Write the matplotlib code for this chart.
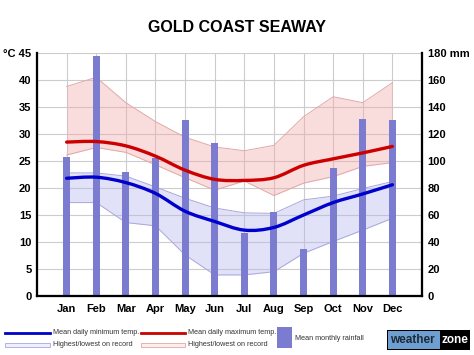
import matplotlib
matplotlib.use('Agg')
import matplotlib.pyplot as plt
from matplotlib.path import Path
from matplotlib.patches import PathPatch, Rectangle
from matplotlib.lines import Line2D

plt.rcParams['font.family'] = ['Liberation Sans', 'DejaVu Sans']

# Gold Coast Seaway climate data
months = ['Jan', 'Feb', 'Mar', 'Apr', 'May', 'Jun', 'Jul', 'Aug', 'Sep', 'Oct', 'Nov', 'Dec']
rainfall = [103, 178, 92, 102, 130, 113, 47, 62, 35, 95, 131, 130]
mean_max = [28.5, 28.6, 27.8, 25.9, 23.3, 21.6, 21.4, 21.9, 24.2, 25.4, 26.5, 27.7]
mean_min = [21.8, 22.0, 21.0, 19.0, 15.7, 13.8, 12.2, 12.7, 15.0, 17.3, 18.9, 20.6]
highest_max = [38.8, 40.5, 35.8, 32.3, 29.4, 27.6, 26.9, 27.9, 33.2, 36.9, 35.8, 39.5]
lowest_max = [26.1, 27.5, 26.6, 24.3, 21.9, 19.6, 21.3, 18.6, 20.9, 22.1, 24.0, 24.7]
highest_min = [22.8, 22.8, 22.2, 20.2, 18.1, 16.3, 15.4, 15.3, 17.8, 18.5, 19.9, 21.2]
lowest_min = [17.3, 17.3, 13.6, 13.0, 7.6, 3.9, 3.9, 4.5, 7.9, 10.1, 12.2, 14.4]

x = list(range(len(months)))


def smooth_path(xs, ys):
    # catmull-rom style bezier through the points
    pts = list(zip(xs, ys))
    verts = [pts[0]]
    codes = [Path.MOVETO]
    n = len(pts)
    for i in range(n - 1):
        p0 = pts[i - 1] if i > 0 else pts[i]
        p1 = pts[i]
        p2 = pts[i + 1]
        p3 = pts[i + 2] if i + 2 < n else pts[i + 1]
        c1 = (p1[0] + (p2[0] - p0[0]) / 6, p1[1] + (p2[1] - p0[1]) / 6)
        c2 = (p2[0] - (p3[0] - p1[0]) / 6, p2[1] - (p3[1] - p1[1]) / 6)
        verts += [c1, c2, p2]
        codes += [Path.CURVE4] * 3
    return Path(verts, codes)


fig = plt.figure(figsize=(4.74, 3.55), dpi=100)
ax = fig.add_axes([37 / 474, 1 - 296 / 355, 385 / 474, 243 / 355])
ax2 = ax.twinx()
ax3 = ax.twinx()

# bands of records
ax.fill_between(x, lowest_max, highest_max, color='#f2a8a8', alpha=0.4, lw=0, zorder=2)
ax.fill_between(x, lowest_min, highest_min, color='#b4b4ee', alpha=0.4, lw=0, zorder=2)
for arr in (highest_max, lowest_max):
    ax.plot(x, arr, color='#e0a8a8', lw=0.7, zorder=3)
for arr in (highest_min, lowest_min):
    ax.plot(x, arr, color='#a8a8dc', lw=0.7, zorder=3)

ax.set_xlim(-1, 12)
ax.set_ylim(0, 45)
ax.set_yticks(range(0, 50, 5))
ax.set_yticklabels([str(v) for v in range(0, 45, 5)] + ['°C 45'], fontweight='bold', fontsize=8)
ax.set_xticks(x)
ax.set_xticklabels(months, fontweight='bold', fontsize=8)
ax.tick_params(axis='both', length=0)
ax.tick_params(axis='x', pad=6)
ax.tick_params(axis='y', pad=4)
ax.grid(True, color='#cccccc', lw=0.8, zorder=0)
ax.set_axisbelow(True)

# rainfall bars
ax2.bar(x, rainfall, width=0.24, color='#7b7bcf', zorder=2)
ax2.set_ylim(0, 180)
ax2.set_yticks(range(0, 200, 20))
ax2.set_yticklabels([str(v) for v in range(0, 180, 20)] + ['180 mm'], fontweight='bold', fontsize=8)
ax2.tick_params(axis='y', length=0, pad=4)

# mean lines
ax3.set_ylim(0, 45)
ax3.set_yticks([])
ax3.add_patch(PathPatch(smooth_path(x, mean_max), fill=False, ec='#cc0000', lw=2.4, capstyle='round'))
ax3.add_patch(PathPatch(smooth_path(x, mean_min), fill=False, ec='#0000cc', lw=2.4, capstyle='round'))

for a in (ax, ax2, ax3):
    a.patch.set_visible(False)
    a.spines['top'].set_visible(False)
    for s in ('left', 'right', 'bottom'):
        a.spines[s].set_linewidth(1.5)
        a.spines[s].set_color('black')
ax.set_zorder(1)
ax2.set_zorder(2)
ax3.set_zorder(3)

fig.text(0.5, 1 - 27 / 355, 'GOLD COAST SEAWAY', ha='center', va='center',
         fontsize=11.5, fontweight='bold')

# legend at the bottom
W, H = 474, 355


def fx(px):
    return px / W


def fy(py):
    return 1 - py / H


fig.add_artist(Line2D([fx(5), fx(50)], [fy(333), fy(333)], color='#0000cc', lw=2))
fig.add_artist(Line2D([fx(141), fx(185)], [fy(333), fy(333)], color='#cc0000', lw=2))
fig.add_artist(Rectangle((fx(5), fy(347)), fx(45), 4 / H, fc='#eeeefc', ec='#a8a8dc', lw=0.6))
fig.add_artist(Rectangle((fx(141), fy(347)), fx(44), 4 / H, fc='#fdeeee', ec='#e0a8a8', lw=0.6))
fig.add_artist(Rectangle((fx(277), fy(348)), fx(15), 21 / H, fc='#7b7bcf', ec='none'))
legend_txt = [
    (53, 333, 'Mean daily minimum temp.'),
    (188, 333, 'Mean daily maximum temp.'),
    (53, 345, 'Highest/lowest on record'),
    (188, 345, 'Highest/lowest on record'),
    (295, 338, 'Mean monthly rainfall'),
]
for px, py, t in legend_txt:
    fig.text(fx(px), fy(py), t, ha='left', va='center', fontsize=5.2, color='#333333')

# weatherzone logo
fig.add_artist(Rectangle((fx(387), fy(350)), fx(83), 20 / H, fc='#000000', ec='none'))
fig.add_artist(Rectangle((fx(388), fy(349)), fx(52), 18 / H, fc='#6f9fd0', ec='none'))
fig.text(fx(390), fy(340), 'weather', ha='left', va='center', fontsize=8.5,
         fontweight='bold', color='#1a2a3a')
fig.text(fx(441), fy(340), 'zone', ha='left', va='center', fontsize=8.5,
         fontweight='bold', color='white')

fig.savefig('out.png', dpi=100)
